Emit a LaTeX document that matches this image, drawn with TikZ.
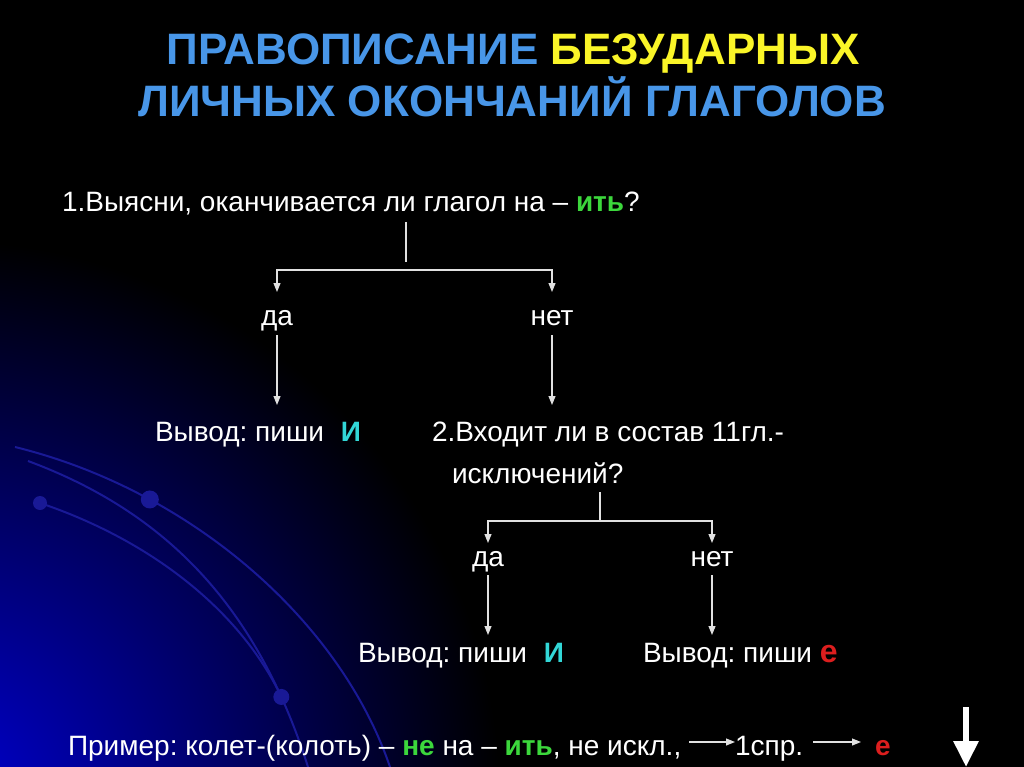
\documentclass[tikz,border=0pt]{standalone}
\usepackage{fontspec}
\setmainfont{Liberation Sans}
\usetikzlibrary{arrows.meta}
\definecolor{titleblue}{RGB}{72,150,232}
\definecolor{titleyellow}{RGB}{250,245,40}
\definecolor{grn}{RGB}{60,215,60}
\definecolor{cyn}{RGB}{50,215,215}
\definecolor{rd}{RGB}{220,30,30}
\definecolor{linec}{RGB}{225,225,225}
\definecolor{arcblue}{RGB}{25,25,150}
\definecolor{glowblue}{RGB}{0,0,210}
\frenchspacing
\begin{document}
\frenchspacing
\begin{tikzpicture}[x=1pt,y=-1pt,
  ttl/.style={font=\fontsize{44}{48}\bfseries\selectfont, inner sep=0pt, anchor=base},
  txt/.style={text=white, font=\fontsize{28}{30}\selectfont, inner sep=0pt, outer sep=0pt, text height=20pt, text depth=6pt},
  wire/.style={draw=linec, line width=1.1pt},
  arr/.style={wire, -{Triangle[width=7pt,length=9pt]}},
  arcline/.style={draw=arcblue, line width=2pt},
  dot/.style={circle, fill=arcblue, inner sep=0pt, minimum size=#1}]
\useasboundingbox (0,0) rectangle (1024,767);
\fill[black] (0,0) rectangle (1024,767);
\begin{scope}
\clip (0,0) rectangle (1024,767);
\shade[inner color=glowblue, outer color=black] (-60,800) circle (560);
\draw[arcline] (15,447) .. controls (190,490) and (340,620) .. (390,767)
  node[dot=18pt, pos=0.27] (d1) {};
\draw[arcline] (28,461) .. controls (160,510) and (255,600) .. (308,767)
  node[dot=16pt, pos=0.85] (d2) {};
\node[dot=14pt] (d3) at (40,503) {};
\draw[arcline] (d3.center) .. controls (150,540) and (240,610) .. (d2.center);
\end{scope}
% title
\node[ttl] (t1) at (513,65) {{\color{titleblue}ПРАВОПИСАНИЕ} {\color{titleyellow}БЕЗУДАРНЫХ}};
\node[ttl] (t2) at (512,117) {{\color{titleblue}ЛИЧНЫХ ОКОНЧАНИЙ ГЛАГОЛОВ}};
% step 1
\node[txt, anchor=base west] (q1) at (62,212) {1.Выясни, оканчивается ли глагол на – {\color{grn}\bfseries ить}?};
\coordinate (j1) at (406,270);
\node[txt, anchor=base] (da1) at (277,325) {да};
\node[txt, anchor=base] (net1) at (552,325) {нет};
\draw[wire] ([yshift=-4pt]q1.south -| j1) -- ([yshift=8pt]j1);
\draw[arr] (j1) -| ([yshift=13pt]da1.north);
\draw[arr] (j1) -| ([yshift=13pt]net1.north);
\node[txt, anchor=base west] (v1) at (155,441) {Вывод: пиши\hspace{0.6em}{\color{cyn}\bfseries И}};
\node[txt, anchor=base west] (q2) at (432,441) {2.Входит ли в состав 11гл.-};
\node[txt, anchor=base west] (q2b) at (452,483) {исключений?};
\draw[arr] ([yshift=-4pt]da1.south) -- ([yshift=16pt]da1.south |- v1.north);
\draw[arr] ([yshift=-4pt]net1.south) -- ([yshift=16pt]net1.south |- q2.north);
% step 2
\coordinate (j2) at (600,521);
\node[txt, anchor=base] (da2) at (488,566) {да};
\node[txt, anchor=base] (net2) at (712,566) {нет};
\draw[wire] ([yshift=-3pt]q2b.south -| j2) -- (j2);
\draw[arr] (j2) -| ([yshift=3pt]da2.north);
\draw[arr] (j2) -| ([yshift=3pt]net2.north);
\node[txt, anchor=base west] (v2) at (358,662) {Вывод: пиши\hspace{0.6em}{\color{cyn}\bfseries И}};
\node[txt, anchor=base west] (v3) at (643,662) {Вывод: пиши {\color{rd}\bfseries\fontsize{32}{34}\selectfont е}};
\draw[arr] ([yshift=-3pt]da2.south) -- ([yshift=7pt]da2.south |- v2.north);
\draw[arr] ([yshift=-3pt]net2.south) -- ([yshift=7pt]net2.south |- v3.north);
% example
\node[txt, anchor=base west] (ex) at (68,755) {Пример: колет-(колоть) – {\color{grn}\bfseries не} на – {\color{grn}\bfseries ить}, не искл.,};
\node[txt, anchor=base west] (sp) at (735,755) {1спр.};
\node[txt, anchor=base west] (ee) at (875,755) {\color{rd}\bfseries е};
\draw[arr] ([xshift=8pt,yshift=6pt]ex.east) -- ([yshift=6pt]sp.west);
\draw[arr] ([xshift=10pt,yshift=6pt]sp.east) -- ([xshift=-14pt,yshift=6pt]ee.west);
\coordinate (bt) at (966,707);
\coordinate (bb) at (966,767);
\draw[white, line width=6pt, -{Triangle[width=24pt,length=26pt]}] (bt) -- (bb);
\end{tikzpicture}
\end{document}
